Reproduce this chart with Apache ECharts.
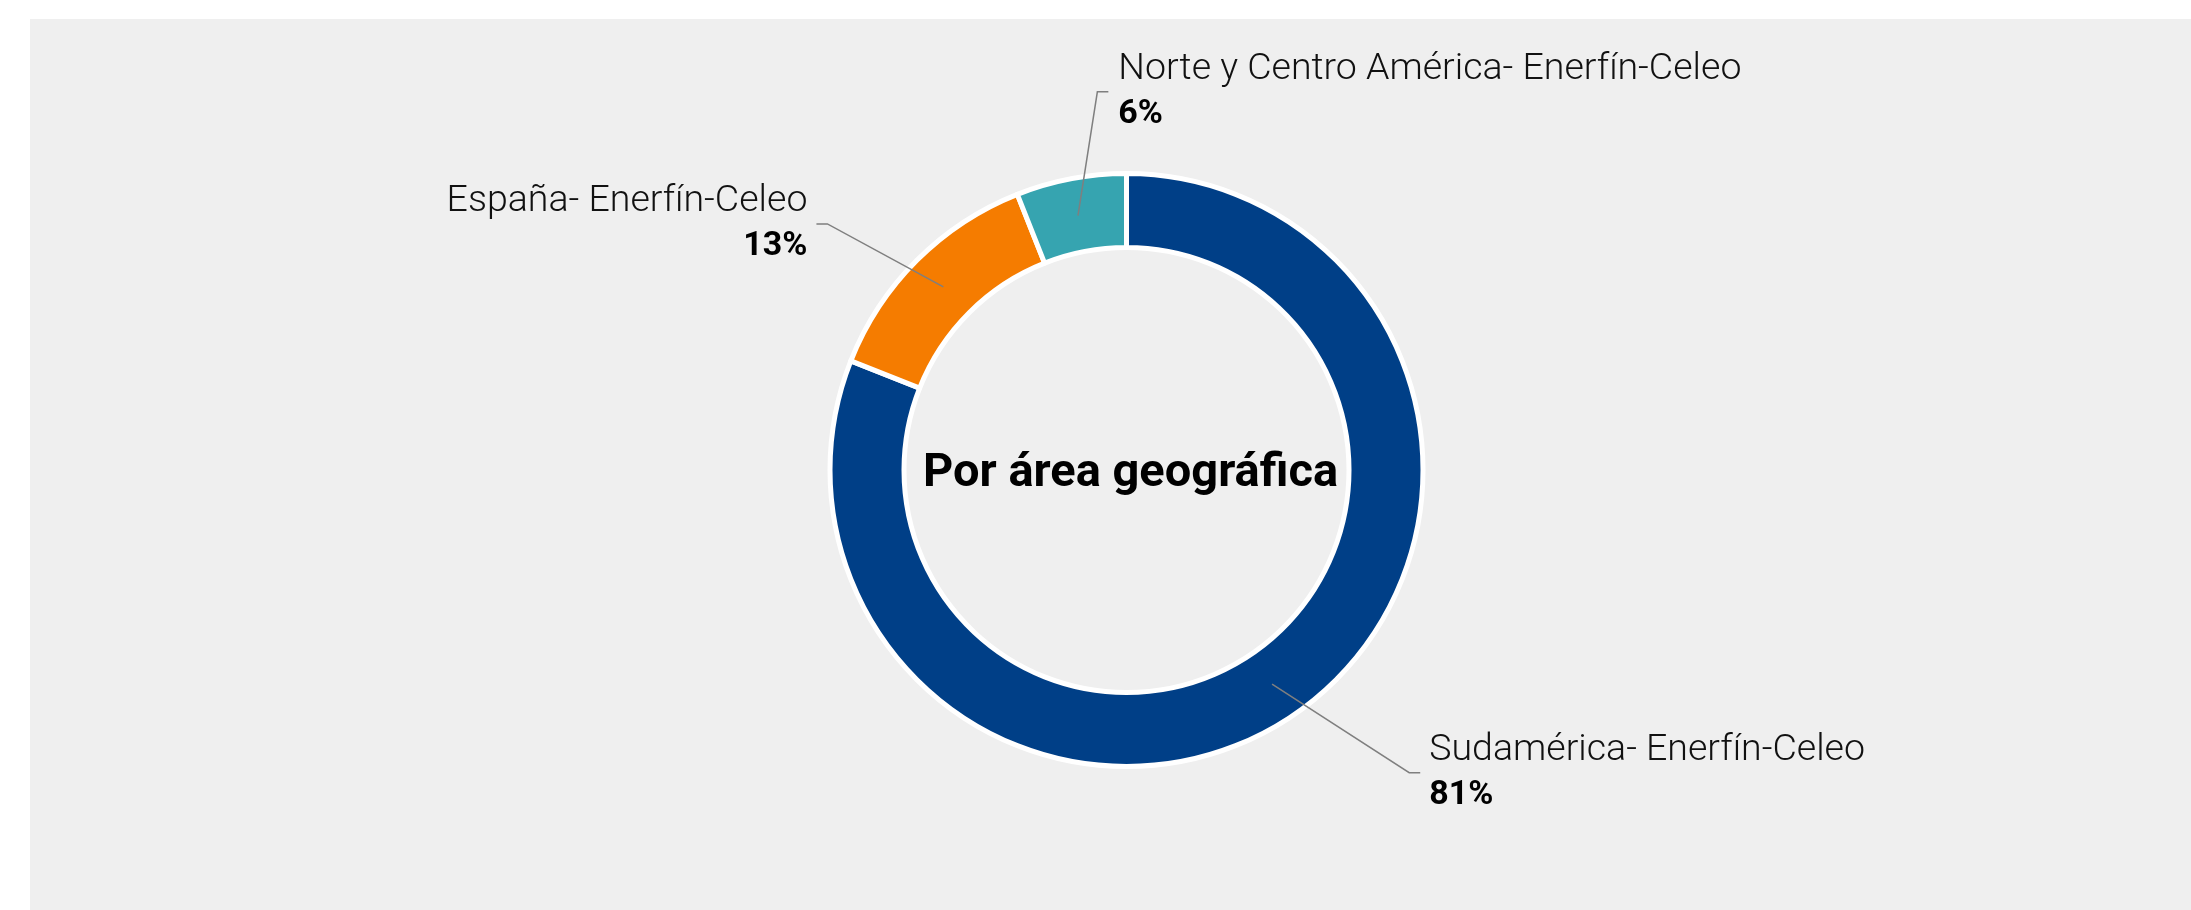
<!DOCTYPE html>
<html>
<head>
<meta charset="utf-8">
<script src="https://cdn.jsdelivr.net/npm/echarts@6/dist/echarts.min.js"></script>
<style>
  html, body { margin: 0; padding: 0; background: #ffffff; }
  #wrap { position: relative; width: 2191px; height: 910px; background: #ffffff; }
  #chart { position: absolute; left: 30px; top: 19px; width: 2161px; height: 891px; background: #efefef; }
</style>
</head>
<body>
<div id="wrap"><div id="chart"></div></div>
<script>
  // datos
  var categories = ['Sudamérica- Enerfín-Celeo', 'España- Enerfín-Celeo', 'Norte y Centro América- Enerfín-Celeo'];
  var shares = [81, 13, 6];
  var centerTitle = 'Por área geográfica';

  var colors = ['#003f87', '#f57c00', '#36a4b0'];
  // largo de las lineas guia [length, length2] por sector
  var lineLens = [[107, 88], [89, 64], [126, 54]];
  // etiqueta al otro lado de la linea
  var flipSide = [false, false, true];

  var labelFont = "Roboto, 'Open Sans', sans-serif";
  var cx = 1096.5, cy = 451;

  var chart = echarts.init(document.getElementById('chart'));

  var ringData = [];
  var labelData = [];
  for (var i = 0; i < categories.length; i++) {
    ringData.push({ name: categories[i], value: shares[i], itemStyle: { color: colors[i] } });
    labelData.push({
      name: categories[i],
      value: shares[i],
      labelLine: { length: lineLens[i][0], length2: lineLens[i][1] }
    });
  }

  chart.setOption({
    animation: false,
    graphic: [{
      type: 'text',
      x: cx + 4,
      y: cy + 4,
      style: {
        text: centerTitle,
        fill: '#000',
        font: "bold 47px Roboto, 'Open Sans', sans-serif",
        align: 'center',
        verticalAlign: 'middle'
      },
      z: 100
    }],
    series: [
      {
        // anillo
        type: 'pie',
        center: [cx, cy],
        radius: [222.5, 296.5],
        startAngle: 90,
        clockwise: true,
        silent: true,
        label: { show: false },
        labelLine: { show: false },
        itemStyle: { borderColor: '#ffffff', borderWidth: 5 },
        data: ringData,
        z: 1
      },
      {
        // solo etiquetas, la linea sale del medio del anillo
        type: 'pie',
        center: [cx, cy],
        radius: [0, 259],
        startAngle: 90,
        clockwise: true,
        silent: true,
        itemStyle: { color: 'rgba(0,0,0,0)', borderWidth: 0 },
        label: {
          show: true,
          position: 'outside',
          distanceToLabelLine: 9,
          formatter: function (p) {
            return '{n|' + p.name + '}\n{p|' + p.value + '%}';
          },
          rich: {
            n: { fontFamily: labelFont, fontSize: 37.5, fontWeight: 300, color: '#111', lineHeight: 45 },
            p: { fontFamily: labelFont, fontSize: 34, fontWeight: 'bold', color: '#000', lineHeight: 45 }
          }
        },
        labelLine: {
          show: true,
          smooth: false,
          lineStyle: { color: '#7f7f7f', width: 1.5 }
        },
        labelLayout: function (p) {
          var pts = p.labelLinePoints;
          if (!pts) return {};
          var a = pts[0], b = pts[1], c = pts[2];
          var dir = c[0] > b[0] ? 1 : -1;
          var res = {};
          if (flipSide[p.dataIndex]) {
            c = [b[0] + (b[0] - c[0]), c[1]];
            dir = -dir;
            res.x = c[0] + dir * 10;
            res.align = dir > 0 ? 'left' : 'right';
          }
          // linea recta hasta cerca del texto y un tramo corto horizontal
          res.labelLinePoints = [[a[0], a[1]], [c[0] - dir * 11, c[1]], [c[0], c[1]]];
          return res;
        },
        data: labelData,
        z: 5
      }
    ]
  });
</script>
</body>
</html>
